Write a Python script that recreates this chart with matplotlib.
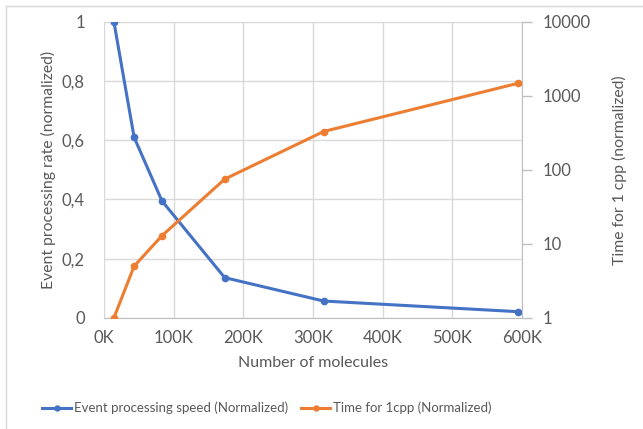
import matplotlib
matplotlib.use("Agg")
import matplotlib.pyplot as plt
from matplotlib.ticker import FuncFormatter, FixedLocator, NullLocator
from matplotlib.lines import Line2D

plt.rcParams['font.family'] = ['Lato', 'DejaVu Sans']

# Data
molecules = [14000, 43000, 83000, 173000, 315000, 594000]
event_speed = [1.0, 0.61, 0.395, 0.136, 0.057, 0.021]
time_1cpp = [1.0, 5.0, 12.9, 75, 330, 1480]

blue = '#4472C4'
orange = '#ED7D31'
text_col = '#595959'
grid_col = '#D9D9D9'

fig = plt.figure(figsize=(6.43, 4.29), dpi=100)
ax = fig.add_axes([0.162, 0.259, 0.650, 0.690])
ax2 = ax.twinx()

# Chart area border (only top and left edges are visible in the crop)
fig.lines.append(Line2D([6 / 643, 1], [1 - 6 / 429, 1 - 6 / 429], transform=fig.transFigure,
                        color=grid_col, lw=1))
fig.lines.append(Line2D([6 / 643, 6 / 643], [0, 1 - 6 / 429], transform=fig.transFigure,
                        color=grid_col, lw=1))

l1, = ax.plot(molecules, event_speed, color=blue, lw=2.2, marker='o', ms=4.5,
              label='Event processing speed (Normalized)', zorder=3)
l2, = ax2.plot(molecules, time_1cpp, color=orange, lw=2.2, marker='o', ms=4.5,
               label='Time for 1cpp (Normalized)', zorder=3)

ax.set_xlim(0, 600000)
ax.set_ylim(0, 1)
ax2.set_yscale('log')
ax2.set_ylim(1, 10000)

ax.set_xticks(range(0, 600001, 100000))
ax.xaxis.set_major_formatter(FuncFormatter(lambda v, p: f"{int(v / 1000)}K"))
ax.set_yticks([0, 0.2, 0.4, 0.6, 0.8, 1.0])
ax.yaxis.set_major_formatter(
    FuncFormatter(lambda v, p: '0' if v == 0 else ('1' if v == 1 else f"{v:.1f}".replace('.', ','))))

ax2.yaxis.set_major_locator(FixedLocator([1, 10, 100, 1000, 10000]))
ax2.yaxis.set_minor_locator(NullLocator())
ax2.yaxis.set_major_formatter(FuncFormatter(lambda v, p: f"{int(v)}"))

ax.grid(True, color=grid_col, lw=1)
ax.set_axisbelow(True)

for a in (ax, ax2):
    for s in a.spines.values():
        s.set_visible(False)
ax2.spines['right'].set_visible(True)
ax2.spines['right'].set_color('#BFBFBF')
ax.spines['bottom'].set_visible(True)
ax.spines['bottom'].set_color('#BFBFBF')

ax.tick_params(axis='both', length=0, labelsize=12, labelcolor=text_col)
ax.tick_params(axis='y', pad=14)
ax.tick_params(axis='x', pad=9)
ax2.tick_params(axis='y', length=7, width=1, color='#BFBFBF', labelsize=12,
                labelcolor=text_col, pad=8)

ax.set_xlabel('Number of molecules', fontsize=11.5, color=text_col, labelpad=7)
ax.set_ylabel('Event processing rate (normalized)', fontsize=11.3, color=text_col, labelpad=4)
ax2.set_ylabel('Time for 1 cpp (normalized)', fontsize=11.3, color=text_col, labelpad=15)

fig.legend(handles=[l1, l2], loc='center', bbox_to_anchor=(0.415, 0.049), ncol=2,
           frameon=False, fontsize=9.5, labelcolor=text_col, handlelength=2.2,
           handletextpad=0.2, columnspacing=1.0, markerscale=0.8)

fig.savefig('out.png', dpi=100)
